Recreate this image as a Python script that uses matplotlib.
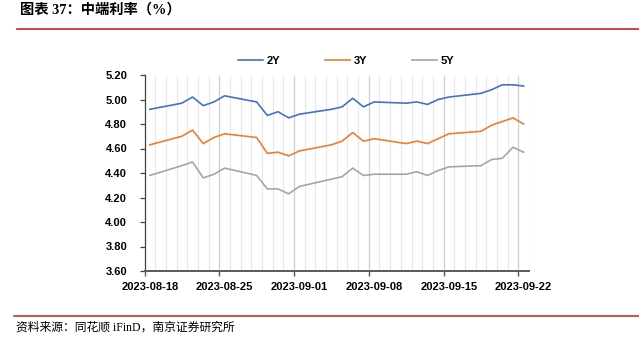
import datetime as dt

import matplotlib
matplotlib.use("Agg")
import matplotlib.pyplot as plt
import matplotlib.dates as mdates
import numpy as np

# Trading days and mid-term rates (%)
dates = [
    "2023-08-18",
    "2023-08-21", "2023-08-22", "2023-08-23", "2023-08-24", "2023-08-25",
    "2023-08-28", "2023-08-29", "2023-08-30", "2023-08-31", "2023-09-01",
    "2023-09-04", "2023-09-05", "2023-09-06", "2023-09-07", "2023-09-08",
    "2023-09-11", "2023-09-12", "2023-09-13", "2023-09-14", "2023-09-15",
    "2023-09-18", "2023-09-19", "2023-09-20", "2023-09-21", "2023-09-22",
]
rate_2y = [4.92, 4.97, 5.02, 4.95, 4.98, 5.03, 4.98, 4.87, 4.90, 4.85, 4.88,
           4.92, 4.94, 5.01, 4.94, 4.98, 4.97, 4.98, 4.96, 5.00, 5.02,
           5.05, 5.08, 5.12, 5.12, 5.11]
rate_3y = [4.63, 4.70, 4.75, 4.64, 4.69, 4.72, 4.69, 4.56, 4.57, 4.54, 4.58,
           4.63, 4.66, 4.73, 4.66, 4.68, 4.64, 4.66, 4.64, 4.68, 4.72,
           4.74, 4.79, 4.82, 4.85, 4.80]
rate_5y = [4.38, 4.46, 4.49, 4.36, 4.39, 4.44, 4.38, 4.27, 4.27, 4.23, 4.29,
           4.35, 4.37, 4.44, 4.38, 4.39, 4.39, 4.41, 4.38, 4.42, 4.45,
           4.46, 4.51, 4.52, 4.61, 4.57]
series_names = ["2Y", "3Y", "5Y"]
series_colors = ["#4472C4", "#ED7D31", "#A5A5A5"]
tick_dates = ["2023-08-18", "2023-08-25", "2023-09-01", "2023-09-08",
              "2023-09-15", "2023-09-22"]
y_ticks = [3.60, 3.80, 4.00, 4.20, 4.40, 4.60, 4.80, 5.00, 5.20]

title_text = "图表 37：中端利率（%）"
source_text = "资料来源：同花顺 iFinD，南京证券研究所"

cjk_serif = ["Liberation Serif", "Noto Sans CJK SC", "DejaVu Sans"]
plt.rcParams["font.family"] = ["Liberation Sans", "Noto Sans CJK SC", "DejaVu Sans"]

def to_num(s):
    return mdates.date2num(dt.datetime.strptime(s, "%Y-%m-%d"))

# Each day occupies one slot; points sit in the middle of their slot
x = np.array([to_num(d) for d in dates]) + 0.5
start = to_num(dates[0])
end = to_num(dates[-1]) + 1

fig = plt.figure(figsize=(6.39, 3.43), dpi=100)
ax = fig.add_axes([144.5 / 639, 1 - 271 / 343, (529 - 144.5) / 639, (271 - 75) / 343])

# Daily vertical grid, weekly boundaries slightly darker
tick_pos = np.array([to_num(d) for d in tick_dates])
day_bounds = np.arange(start, end + 1)
minor_bounds = [d for d in day_bounds if d not in set(tick_pos)]
ax.vlines(minor_bounds, 0, 1, transform=ax.get_xaxis_transform(),
          colors="#E8E8E8", linewidth=0.8, zorder=0)
ax.vlines(tick_pos[1:], 0, 1, transform=ax.get_xaxis_transform(),
          colors="#CFCFCF", linewidth=0.9, zorder=0)

for vals, name, color in zip([rate_2y, rate_3y, rate_5y], series_names, series_colors):
    ax.plot(x, vals, color=color, linewidth=1.2, label=name, zorder=3)

ax.set_xlim(start, end)
ax.set_ylim(3.6, 5.2)
ax.set_yticks(y_ticks, labels=[f"{v:.2f}" for v in y_ticks])

ax.set_xticks(tick_pos, labels=[""] * len(tick_pos))
ax.set_xticks(tick_pos + 0.5, labels=tick_dates, minor=True)
ax.tick_params(axis="x", which="major", direction="out", length=3.5,
               width=1.0, color="#595959")
ax.tick_params(axis="x", which="minor", length=0, pad=8)
ax.tick_params(axis="y", direction="out", length=3.5, width=0.9,
               color="#404040", pad=9)
for lbl in ax.get_xticklabels(minor=True) + ax.get_yticklabels():
    lbl.set_fontsize(8)
    lbl.set_fontweight("bold")
    lbl.set_color("#000000")

for side in ("top", "right"):
    ax.spines[side].set_visible(False)
ax.spines["left"].set_color("#404040")
ax.spines["left"].set_linewidth(0.9)
ax.spines["bottom"].set_color("#595959")
ax.spines["bottom"].set_linewidth(1.4)

leg = fig.legend(loc="center", bbox_to_anchor=(346 / 639, 1 - 61 / 343), ncol=3,
                 frameon=False, handlelength=2.3, handletextpad=0.3,
                 columnspacing=4.0, prop={"weight": "bold", "size": 8})

# Header and footer
fig.text(20 / 639, 1 - 10 / 343, title_text, ha="left", va="center",
         fontsize=10.3, fontweight="bold", family=cjk_serif)
fig.add_artist(plt.Line2D([17 / 639, 1.0], [1 - 29.3 / 343] * 2,
                          color="#C0282D", linewidth=1.2))
fig.add_artist(plt.Line2D([14 / 639, 1.0], [1 - 315.7 / 343] * 2,
                          color="#D42A2F", linewidth=1.2))
fig.text(16 / 639, 1 - 327.5 / 343, source_text, ha="left", va="center",
         fontsize=8.5, family=cjk_serif)

fig.savefig("out.png", dpi=100)
